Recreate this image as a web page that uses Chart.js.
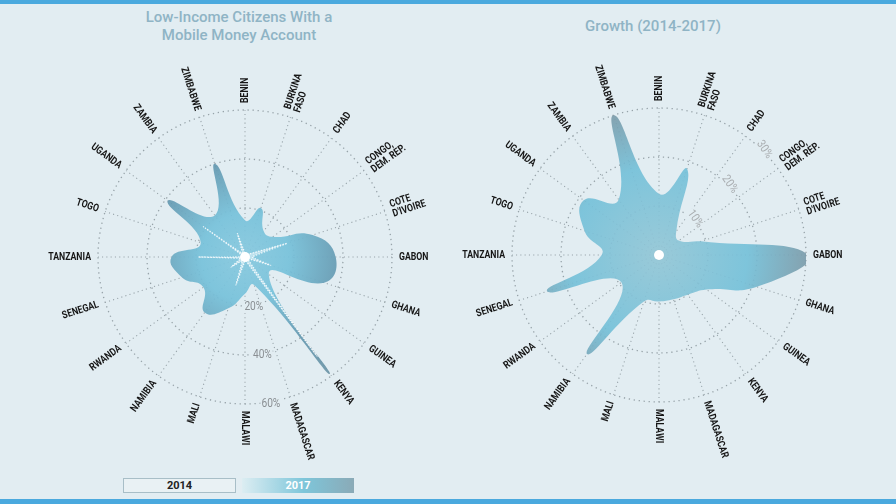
<!DOCTYPE html>
<html>
<head>
<meta charset="utf-8">
<script src="https://cdn.jsdelivr.net/npm/chart.js@4.4.1/dist/chart.umd.min.js"></script>
<style>
html, body { margin: 0; padding: 0; }
body { width: 896px; height: 504px; background: #e2edf2; position: relative; overflow: hidden; font-family: Roboto, sans-serif; }
.bar { position: absolute; left: 0; width: 896px; background: #4aa9de; }
.bar.top { top: 0; height: 4px; }
.bar.bottom { top: 499px; height: 5px; }
canvas { position: absolute; top: 0; }
#accountChart { left: 0; }
#growthChart { left: 448px; }
.title { position: absolute; color: #8fb4c5; font-weight: 500; font-size: 15px; line-height: 18px; text-align: center; white-space: nowrap; }
.legend-box { position: absolute; top: 478px; height: 15px; box-sizing: border-box; font-weight: bold; font-size: 11px; line-height: 13px; text-align: center; }
#leg2014 { left: 123px; width: 113px; background: #e9f1f4; border: 1.5px solid #a8bec7; color: #222; }
#leg2017 { left: 242px; width: 112px; background: linear-gradient(to right, #dcedf2 0%, #7ec6da 55%, #8aaab7 100%); color: #fff; line-height: 15px; }
</style>
</head>
<body>
<div class="bar top"></div>
<div class="title" style="left:119px; top:8px; width:240px;">Low-Income Citizens With a<br>Mobile Money Account</div>
<div class="title" style="left:533px; top:17px; width:240px;">Growth (2014-2017)</div>
<canvas id="accountChart" width="448" height="504"></canvas>
<canvas id="growthChart" width="448" height="504"></canvas>
<div class="legend-box" id="leg2014">2014</div>
<div class="legend-box" id="leg2017">2017</div>
<div class="bar bottom"></div>
<script>
// Countries, clockwise from the top
const categories = ['BENIN', ['BURKINA', 'FASO'], 'CHAD', ['CONGO,', 'DEM. REP.'], ['COTE', "D'IVOIRE"], 'GABON', 'GHANA', 'GUINEA', 'KENYA', 'MADAGASCAR',
    'MALAWI', 'MALI', 'NAMIBIA', 'RWANDA', 'SENEGAL', 'TANZANIA', 'TOGO', 'UGANDA', 'ZAMBIA', 'ZIMBABWE'];

// Low-income citizens with a mobile money account (%)
const account2014 = [1.5, 2, 1, 2, 18, 3, 11, 1.5, 50, 2, 1.5, 12, 2, 7, 2, 19, 1, 21, 2, 10];
const account2017 = [15, 21, 13, 14, 29, 37, 34, 12, 59, 12, 15, 22, 28, 21, 27, 30, 19, 39, 21, 40];

// Growth 2014-2017 (percentage points)
const growth = [12.5, 18.5, 6, 5, 9, 30.5, 21, 12, 10, 9.5, 9.5, 10, 25, 9.5, 24, 11.7, 16, 19, 14, 30];

const accountTicks = [20, 40, 60];
const accountTickLabels = ['20%', '40%', '60%'];
const growthTicks = [10, 20, 30];
const growthTickLabels = ['10%', '20%', '30%'];

const BG = '#e2edf2';

function radialFill(stops) {
    return function(context) {
        const chart = context.chart;
        const scale = chart.scales.r;
        if (!chart.chartArea || !scale) return stops[1][1];
        const g = chart.ctx.createRadialGradient(scale.xCenter, scale.yCenter, 0, scale.xCenter, scale.yCenter, scale.drawingArea);
        stops.forEach(s => g.addColorStop(s[0], s[1]));
        return g;
    };
}

// Rotated country labels, tick labels and the white hub
const radialLabels = {
    id: 'radialLabels',
    afterDatasetsDraw(chart, args, opts) {
        const scale = chart.scales.r;
        const ctx = chart.ctx;

        ctx.save();
        ctx.beginPath();
        ctx.arc(scale.xCenter, scale.yCenter, 5, 0, Math.PI * 2);
        ctx.fillStyle = '#ffffff';
        ctx.fill();
        ctx.restore();

        ctx.save();
        ctx.font = 'bold 10.5px Roboto, sans-serif';
        ctx.fillStyle = '#161616';
        ctx.textBaseline = 'middle';
        chart.data.labels.forEach((label, i) => {
            const lines = [].concat(label);
            const a = scale.getIndexAngle(i) - Math.PI / 2;
            const right = a <= Math.PI / 2 + 0.001;
            const p = scale.getPointPosition(i, scale.drawingArea + opts.gap);
            ctx.save();
            ctx.translate(p.x, p.y);
            ctx.rotate(right ? a : a - Math.PI);
            ctx.scale(0.83, 1);
            ctx.textAlign = right ? 'left' : 'right';
            lines.forEach((ln, k) => ctx.fillText(ln, 0, (k - (lines.length - 1) / 2) * 10));
            ctx.restore();
        });
        ctx.restore();

        ctx.save();
        ctx.font = '12px Roboto, sans-serif';
        ctx.textAlign = 'center';
        ctx.textBaseline = 'middle';
        const ang = (opts.tickAngle - 90) * Math.PI / 180;
        opts.ticks.forEach((v, k) => {
            const d = scale.getDistanceFromCenterForValue(v) + 2;
            ctx.save();
            ctx.translate(scale.xCenter + Math.cos(ang) * d, scale.yCenter + Math.sin(ang) * d);
            ctx.rotate(opts.tickRotation * Math.PI / 180);
            ctx.scale(0.85, 1);
            const w = ctx.measureText(opts.tickLabels[k]).width;
            ctx.fillStyle = BG;
            ctx.fillRect(-w / 2 - 1, -6, w + 2, 12);
            ctx.fillStyle = opts.tickColor;
            ctx.fillText(opts.tickLabels[k], 0, 0);
            ctx.restore();
        });
        ctx.restore();
    }
};

function radarScale(max, step) {
    return {
        r: {
            min: 0,
            max: max,
            ticks: { display: false, stepSize: step },
            pointLabels: { display: false },
            grid: { circular: true, color: '#97a3a9', lineWidth: 1.3 },
            border: { dash: [1.3, 3.7] },
            angleLines: { color: '#97a3a9', lineWidth: 1.1, borderDash: [1.1, 3.2] }
        }
    };
}

new Chart(document.getElementById('accountChart'), {
    type: 'radar',
    data: {
        labels: categories,
        datasets: [
            {
                label: '2014',
                data: account2014,
                backgroundColor: 'rgba(255,255,255,0.45)',
                borderColor: 'rgba(255,255,255,0.85)',
                borderWidth: 1.3,
                borderDash: [1.3, 1.5],
                pointRadius: 0,
                tension: 0.1,
                fill: true
            },
            {
                label: '2017',
                data: account2017,
                backgroundColor: radialFill([[0, 'rgba(134,200,222,0.92)'], [0.3, 'rgba(118,193,218,0.92)'], [0.65, 'rgba(100,152,176,0.92)'], [1, 'rgba(108,148,166,0.92)']]),
                borderWidth: 0,
                pointRadius: 0,
                tension: 0.5,
                fill: true
            }
        ]
    },
    options: {
        responsive: false,
        animation: false,
        layout: { padding: { left: 98, right: 56, top: 110, bottom: 100 } },
        plugins: {
            legend: { display: false },
            tooltip: { enabled: false },
            radialLabels: { gap: 7, ticks: accountTicks, tickLabels: accountTickLabels, tickAngle: 170, tickRotation: 0, tickColor: '#8a8f93' }
        },
        scales: radarScale(60, 20)
    },
    plugins: [radialLabels]
});

new Chart(document.getElementById('growthChart'), {
    type: 'radar',
    data: {
        labels: categories,
        datasets: [
            {
                label: 'Growth (2014-2017)',
                data: growth,
                backgroundColor: radialFill([[0, 'rgba(146,197,213,0.9)'], [0.6, 'rgba(115,191,216,0.9)'], [1, 'rgba(122,154,169,0.9)']]),
                borderWidth: 0,
                pointRadius: 0,
                tension: 0.5,
                fill: true
            }
        ]
    },
    options: {
        responsive: false,
        animation: false,
        layout: { padding: { left: 64, right: 90, top: 108, bottom: 102 } },
        plugins: {
            legend: { display: false },
            tooltip: { enabled: false },
            radialLabels: { gap: 7, ticks: growthTicks, tickLabels: growthTickLabels, tickAngle: 45, tickRotation: 55, tickColor: '#a9adb0' }
        },
        scales: radarScale(30, 10)
    },
    plugins: [radialLabels]
});
</script>
</body>
</html>
